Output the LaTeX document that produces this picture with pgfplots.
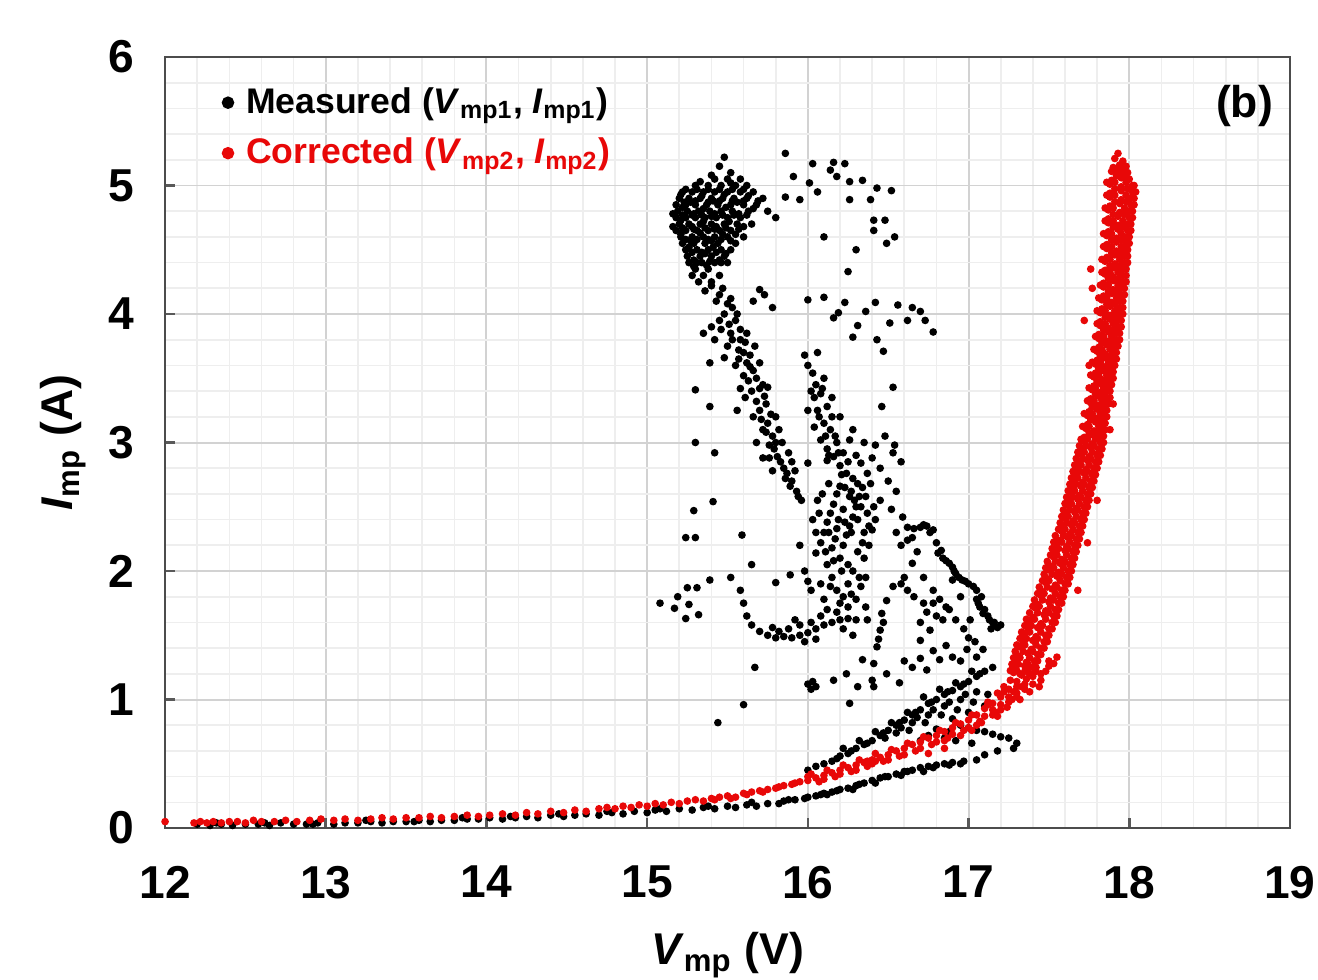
\documentclass[border=0pt]{standalone}
\usepackage{pgfplots}
\pgfplotsset{compat=1.18}
\usepackage{fontspec}
\setmainfont{Liberation Sans}
\definecolor{cred}{RGB}{232,8,8}
\begin{document}
\begin{tikzpicture}
\path[use as bounding box] (-50.1pt,-46.1pt) rectangle (349.9pt,251.3pt);
\begin{axis}[
  scale only axis, width=341.4pt, height=234pt,
  xmin=12, xmax=19, ymin=0, ymax=6,
  xtick={12,...,19}, ytick={0,...,6},
  minor x tick num=4, minor y tick num=4,
  grid=both,
  major grid style={draw=gray!35, line width=0.6pt},
  minor grid style={draw=gray!13, line width=0.5pt},
  axis line style={draw=black!70, line width=0.8pt},
  major tick length=3pt, minor tick length=0pt,
  tick style={draw=black!65, line width=0.8pt},
  xtick pos=left, ytick pos=left, tick align=inside,
  /pgf/number format/assume math mode=true,
  ticklabel style={font=\bfseries\fontsize{14}{16}\selectfont},
  yticklabel style={xshift=-6pt},
  xticklabel style={yshift=-8pt},
  xlabel={\textbf{\textit{V}}\textsubscript{\textbf{mp}} \textbf{(V)}},
  ylabel={\textbf{\textit{I}}\textsubscript{\textbf{mp}} \textbf{(A)}},
  label style={font=\bfseries\fontsize{13.5}{16}\selectfont},
  xlabel style={at={(axis description cs:0.5,0)}, anchor=north, yshift=-28pt},
  ylabel style={at={(axis description cs:0,0.5)}, anchor=center, yshift=31pt},
  legend style={draw=none, fill=none, at={(rel axis cs:0,1)}, anchor=north west,
    xshift=14pt, yshift=-5pt, font=\bfseries\fontsize{10.8}{13}\selectfont, row sep=2pt},
  legend cell align=left,
]
\addplot[only marks, mark=*, mark size=0.95pt, color=black,
  legend image code/.code={\fill[black] (0pt,0pt) circle (1.7pt); \path (3.3pt,0pt);}] coordinates {
(12.20,0.03) (12.28,0.02) (12.35,0.03) (12.42,0.02) (12.50,0.03) (12.58,0.03) (12.65,0.02) (12.72,0.04) (12.80,0.03) (12.88,0.03) (12.95,0.04) (13.05,0.03) (13.12,0.04) (13.20,0.04) (13.28,0.05) (13.35,0.04) (13.42,0.05) (13.50,0.05) (13.58,0.06) (13.65,0.05) (13.72,0.06) (13.80,0.06) (13.88,0.07) (13.95,0.07) (14.02,0.08) (14.10,0.07) (14.18,0.08) (14.25,0.09) (14.32,0.08) (14.40,0.10) (14.48,0.09) (14.55,0.10) (14.62,0.11) (14.70,0.10) (14.78,0.12) (14.85,0.11) (14.92,0.13) (15.00,0.12) (15.05,0.14) (15.12,0.13) (15.20,0.15) (15.28,0.14) (15.35,0.16) (15.42,0.15) (15.50,0.17) (15.55,0.16) (15.62,0.18) (15.68,0.17) (15.75,0.19) (15.82,0.19)
(12.32,0.04) (12.62,0.04) (12.92,0.03) (13.25,0.06) (13.55,0.05) (13.85,0.08) (14.15,0.09) (14.45,0.11) (14.75,0.13) (15.08,0.15) (15.38,0.17) (15.65,0.20)
(15.85,0.21) (15.92,0.22) (16.00,0.24) (16.05,0.25) (16.10,0.27) (16.15,0.28) (16.20,0.30) (16.25,0.31) (16.30,0.33) (16.35,0.35) (16.40,0.37) (16.45,0.39) (16.50,0.40) (16.55,0.42) (16.60,0.44) (16.65,0.45) (16.70,0.47) (16.75,0.48) (16.80,0.49) (16.85,0.50) (16.90,0.51) (16.97,0.52) (17.05,0.53) (16.12,0.26) (16.28,0.30) (16.42,0.35) (16.58,0.41) (16.72,0.44)
(15.88,0.22) (15.98,0.23) (16.08,0.26) (16.18,0.29) (16.32,0.34) (16.48,0.40) (16.62,0.44) (16.78,0.47) (16.88,0.49) (16.95,0.50)
(16.95,0.80) (17.00,0.78) (17.05,0.76) (17.10,0.75) (17.15,0.73) (17.20,0.71) (17.25,0.70) (17.30,0.66) (17.28,0.62) (17.18,0.60) (17.10,0.57) (16.88,0.75) (16.80,0.77) (16.85,0.70) (16.75,0.72) (16.70,0.68) (16.92,0.68) (17.02,0.66)
(16.00,0.45) (16.05,0.48) (16.10,0.50) (16.15,0.52) (16.20,0.56) (16.25,0.58) (16.30,0.62) (16.35,0.65) (16.40,0.68) (16.45,0.72) (16.50,0.76) (16.55,0.80) (16.60,0.84) (16.65,0.88) (16.70,0.92) (16.75,0.97) (16.80,1.00) (16.85,1.04) (16.90,1.07) (16.95,1.10) (17.00,1.14) (17.05,1.18) (17.10,1.22) (17.15,1.25) (16.22,0.62) (16.32,0.68) (16.42,0.75) (16.52,0.82) (16.62,0.90) (16.72,1.02) (16.82,1.08) (16.92,1.13) (17.02,1.22) (16.48,0.70) (16.58,0.78) (16.68,0.86) (16.78,0.92) (16.88,0.98) (16.98,1.04)
(16.18,0.54) (16.27,0.60) (16.37,0.66) (16.47,0.74) (16.57,0.82) (16.67,0.90) (16.77,0.98) (16.87,1.06) (16.97,1.12) (17.07,1.20) (16.55,0.74) (16.65,0.82) (16.75,0.88) (16.85,0.95) (16.95,1.00) (17.05,1.06) (16.63,0.76) (16.73,0.82) (16.83,0.88) (16.93,0.92) (17.03,0.98) (17.12,1.04) (16.90,0.85) (17.00,0.90) (17.10,0.95)
(16.00,1.12) (16.02,1.08) (16.05,1.10) (16.03,1.14)
(16.16,1.15) (16.24,1.20) (16.31,1.10) (16.41,1.10) (16.49,1.20) (16.57,1.13) (16.65,1.25) (16.74,1.23) (16.82,1.31) (16.90,1.33) (16.99,1.39) (17.09,1.39) (16.26,0.97) (16.34,1.31) (15.67,1.25) (15.60,0.96) (15.44,0.82) (16.60,1.30) (16.70,1.32) (16.78,1.38) (16.86,1.42) (16.95,1.30) (17.05,1.33)
(15.58,1.85) (15.60,1.75) (15.62,1.65) (15.65,1.58) (15.70,1.53) (15.75,1.50) (15.80,1.48) (15.85,1.49) (15.90,1.48) (15.95,1.50) (16.00,1.52) (16.05,1.55) (16.10,1.58) (16.15,1.60) (16.20,1.62) (16.25,1.63) (16.30,1.62) (16.37,1.62) (15.82,1.53) (15.88,1.55) (15.95,1.58) (16.02,1.60) (16.08,1.65) (16.12,1.70) (16.18,1.68) (15.78,1.56) (15.98,1.45) (16.05,1.47) (16.22,1.55) (16.28,1.50) (15.92,1.62)
(15.08,1.75) (15.19,1.80) (15.25,1.87) (15.31,1.87) (15.17,1.71) (15.26,1.74) (15.32,1.66) (15.24,1.63) (15.39,1.93) (15.52,1.95) (15.24,2.26) (15.30,2.26) (15.29,2.47) (15.41,2.54) (15.59,2.28) (15.65,2.05) (15.80,1.91) (15.89,1.97) (15.30,3.00) (15.42,2.92) (15.39,3.28) (15.30,3.41) (15.39,3.62) (15.48,3.66) (15.56,3.25) (15.61,3.35)
(16.53,1.88) (16.49,1.77) (16.46,1.67) (16.45,1.54) (16.43,1.41) (16.40,1.15) (16.47,1.60) (16.44,1.47) (16.41,1.28)
(16.45,2.55) (16.52,2.48) (16.59,2.42) (16.62,2.34) (16.65,2.26) (16.70,2.34) (16.74,2.35) (16.78,2.32) (16.81,2.14) (16.84,2.10) (16.88,2.06) (16.91,2.00) (16.94,1.95) (16.98,1.92) (17.03,1.88) (17.07,1.72) (17.09,1.67) (17.13,1.62) (17.18,1.56) (17.01,1.62) (16.90,1.93) (16.62,2.24) (16.65,2.06) (16.78,1.85) (16.86,1.72) (16.76,1.54) (16.70,1.46) (16.72,1.95) (16.68,2.15) (16.58,2.20) (16.80,1.65) (16.95,1.80) (17.05,1.78) (17.15,1.60) (16.55,2.30) (16.60,1.95) (16.72,1.75) (16.84,1.62)
(16.66,2.33) (16.72,2.36) (16.76,2.30) (16.80,2.22) (16.83,2.16) (16.86,2.08) (16.90,2.03) (16.92,1.98) (16.96,1.93) (17.00,1.90) (17.05,1.85) (17.08,1.80) (17.06,1.75) (17.10,1.70) (17.12,1.65) (17.16,1.60) (17.20,1.58) (17.14,1.55)
(16.70,1.60) (16.74,1.68) (16.78,1.75) (16.82,1.78) (16.88,1.70) (16.92,1.62) (16.97,1.55) (17.00,1.48) (17.04,1.45) (16.58,1.90) (16.62,1.85) (16.66,1.80)
(16.05,2.14) (16.08,2.22) (16.10,2.30) (16.12,2.38) (16.14,2.45) (16.16,2.52) (16.18,2.60) (16.20,2.66) (16.22,2.20) (16.24,2.28) (16.26,2.35) (16.28,2.42) (16.30,2.50) (16.32,2.58) (16.34,2.65) (16.12,2.05) (16.15,1.95) (16.18,1.85) (16.22,1.80) (16.25,1.90) (16.28,2.00) (16.30,1.78) (16.33,1.88) (16.35,2.10) (16.38,2.20) (16.40,2.32) (16.20,2.10) (16.15,2.18) (16.08,1.90) (16.02,1.85) (16.10,1.78) (16.36,1.72) (16.25,1.72) (15.98,2.00) (16.03,2.40) (16.06,2.55) (16.28,2.72) (16.22,2.48) (16.18,2.33) (16.26,2.58) (16.37,2.45) (16.42,2.40) (16.35,2.30) (15.95,2.20) (16.00,1.92)
(16.04,3.35) (16.09,3.42) (16.07,3.20) (16.11,3.05) (16.15,3.20) (16.17,3.05) (16.13,2.90) (16.19,2.92) (16.21,2.75) (16.25,2.85) (16.23,2.65) (16.27,2.62) (16.31,2.68) (16.29,2.55) (16.33,2.50) (16.31,2.40) (16.27,2.30) (16.23,2.38) (16.19,2.40) (16.17,2.25) (16.13,2.30) (16.11,2.15) (16.16,2.08) (16.21,2.00) (16.25,2.05) (16.31,2.15) (16.34,2.22) (16.38,2.35) (16.41,2.50) (16.36,2.58) (16.39,2.68) (16.05,2.30) (16.07,2.45) (16.09,2.60) (16.13,2.68) (16.36,1.95) (16.32,1.95) (16.27,1.82) (16.20,1.75) (16.14,1.88)
(15.29,4.37) (15.35,4.30) (15.40,4.22) (15.45,4.15) (15.50,4.08) (15.53,4.05) (15.55,3.95) (15.58,3.80) (15.60,3.70) (15.62,3.62) (15.64,3.59) (15.68,3.50) (15.72,3.45) (15.75,3.43) (15.74,3.30) (15.75,3.15) (15.78,3.05) (15.81,2.89) (15.85,2.80) (15.87,2.76) (15.90,2.70) (15.93,2.62) (15.96,2.55) (15.52,3.85) (15.57,3.72) (15.62,3.85) (15.67,3.75) (15.70,3.62) (15.65,3.40) (15.70,3.25) (15.72,3.10) (15.76,2.98) (15.80,3.20) (15.84,3.00) (15.88,2.92) (15.68,3.00) (15.72,2.88) (15.78,2.78) (15.45,3.95) (15.48,4.00) (15.40,3.90) (15.35,3.85) (15.42,3.80) (15.50,3.75) (15.55,3.60) (15.60,3.52) (15.58,3.42) (15.66,3.20) (15.82,3.10) (15.90,2.85) (15.92,2.78)
(15.36,4.18) (15.43,4.10) (15.47,4.20) (15.52,4.12) (15.56,4.00) (15.51,3.92) (15.46,3.88) (15.53,3.80) (15.58,3.88) (15.61,3.78) (15.64,3.68) (15.57,3.65) (15.66,3.56) (15.63,3.48) (15.70,3.42) (15.73,3.36) (15.68,3.32) (15.71,3.18) (15.77,3.22) (15.74,3.08) (15.79,2.95) (15.83,2.85) (15.86,2.72) (15.80,3.00) (15.76,2.88) (15.89,2.66) (15.94,2.58)
(16.03,3.54) (16.05,3.45) (16.08,3.38) (16.12,3.28) (16.10,3.15) (16.08,3.02) (16.12,2.95) (16.16,2.89) (16.20,2.82) (16.24,2.76) (16.00,3.60) (15.98,3.68) (16.02,3.40) (16.06,3.25) (16.14,3.10) (16.18,3.00) (16.22,2.92) (16.04,3.12) (16.00,3.25) (16.06,3.70) (16.10,3.50) (16.15,3.35) (16.20,3.20) (16.26,3.02) (16.30,2.90) (16.37,2.76) (16.33,2.84) (16.28,3.10) (16.35,3.00) (16.40,2.88) (16.45,2.80) (16.50,2.70) (16.55,2.62) (16.42,2.98) (16.48,3.05) (16.53,2.92) (16.58,2.85) (16.00,2.84) (16.12,2.86) (16.53,3.43) (16.46,3.28) (16.54,2.98)
(15.86,5.25) (16.03,5.17) (16.16,5.18) (16.23,5.17) (16.26,5.03) (16.34,5.04) (16.43,4.98) (16.52,4.96) (16.41,4.73) (16.48,4.73) (16.41,4.65) (16.54,4.60) (16.49,4.55) (16.30,4.50) (16.10,4.60) (16.25,4.33) (16.39,4.89) (16.26,4.89) (15.95,4.89) (15.86,4.91) (15.80,4.75) (16.06,4.95) (16.01,5.02) (15.91,5.07) (16.14,5.12) (16.18,5.07)
(16.00,4.11) (16.10,4.13) (16.23,4.09) (16.42,4.09) (16.56,4.07) (16.65,4.05) (16.70,4.02) (16.73,3.95) (16.78,3.86) (16.62,3.95) (16.51,3.93) (16.36,4.02) (16.43,3.80) (16.47,3.71) (16.31,3.91) (16.28,3.82) (16.16,3.97) (16.19,4.01) (15.70,4.19) (15.78,4.05) (15.73,4.15) (15.66,4.10)
(15.42,5.05) (15.50,5.05) (15.30,5.00) (15.38,5.00) (15.46,5.00) (15.55,5.00)
(15.22,4.95) (15.28,4.95) (15.35,4.95) (15.42,4.95) (15.50,4.95) (15.58,4.95) (15.66,4.95)
(15.20,4.90) (15.26,4.90) (15.33,4.90) (15.40,4.90) (15.47,4.90) (15.54,4.90) (15.62,4.90) (15.72,4.90)
(15.18,4.85) (15.24,4.85) (15.30,4.85) (15.37,4.85) (15.44,4.85) (15.52,4.85) (15.60,4.85) (15.68,4.85)
(15.19,4.80) (15.25,4.80) (15.32,4.80) (15.39,4.80) (15.46,4.80) (15.53,4.80) (15.63,4.80) (15.75,4.80)
(15.18,4.75) (15.24,4.75) (15.30,4.75) (15.36,4.75) (15.43,4.75) (15.50,4.75) (15.58,4.75)
(15.20,4.70) (15.26,4.70) (15.33,4.70) (15.40,4.70) (15.48,4.70) (15.56,4.70) (15.65,4.70)
(15.18,4.65) (15.24,4.65) (15.31,4.65) (15.38,4.65) (15.45,4.65) (15.52,4.65)
(15.21,4.60) (15.28,4.60) (15.35,4.60) (15.42,4.60) (15.50,4.60) (15.60,4.60)
(15.22,4.55) (15.29,4.55) (15.36,4.55) (15.44,4.55) (15.55,4.55)
(15.24,4.50) (15.31,4.50) (15.38,4.50) (15.46,4.50) (15.52,4.50)
(15.25,4.45) (15.33,4.45) (15.40,4.45) (15.48,4.45)
(15.26,4.40) (15.34,4.40) (15.42,4.40) (15.50,4.40)
(15.30,4.35) (15.38,4.35) (15.28,4.30) (15.45,4.30) (15.32,4.25) (15.40,4.25)
(15.45,5.15) (15.48,5.22) (15.52,5.10) (15.58,5.05) (15.62,5.00)
(15.21,4.93) (15.27,4.87) (15.34,4.92) (15.41,4.88) (15.48,4.93) (15.56,4.87) (15.63,4.92)
(15.22,4.83) (15.29,4.78) (15.35,4.82) (15.42,4.78) (15.49,4.83) (15.57,4.78) (15.66,4.82)
(15.21,4.73) (15.28,4.68) (15.35,4.72) (15.43,4.68) (15.51,4.72) (15.60,4.68)
(15.21,4.62) (15.27,4.57) (15.33,4.63) (15.40,4.57) (15.47,4.62) (15.55,4.62)
(15.26,4.52) (15.34,4.48) (15.41,4.52) (15.49,4.47) (15.29,4.42) (15.37,4.38) (15.45,4.42)
(15.33,5.03) (15.40,5.08) (15.52,5.02) (15.60,4.97) (15.69,4.88) (15.16,4.78) (15.16,4.68)
(15.24,4.97) (15.31,4.97) (15.38,4.97) (15.45,4.97) (15.53,4.97)
(15.23,4.87) (15.30,4.88) (15.38,4.87) (15.45,4.88) (15.53,4.88) (15.60,4.88)
(15.22,4.77) (15.28,4.77) (15.34,4.77) (15.40,4.76) (15.47,4.77) (15.54,4.77) (15.62,4.77)
(15.22,4.67) (15.29,4.66) (15.36,4.67) (15.42,4.66) (15.49,4.67) (15.57,4.66)
(15.24,4.58) (15.31,4.58) (15.38,4.58) (15.46,4.58) (15.52,4.57)
(15.28,4.48) (15.36,4.47) (15.43,4.48) (15.31,4.40) (15.39,4.41) (15.46,4.40)
};
\addlegendentry{Measured (\textit{V}\textsubscript{mp1}, \textit{I}\textsubscript{mp1})}
\addplot[only marks, mark=*, mark size=0.95pt, color=cred,
  legend image code/.code={\fill[cred] (0pt,0pt) circle (1.7pt); \path (3.3pt,0pt);}] coordinates {
(12.00,0.05) (12.18,0.04) (12.22,0.05) (12.26,0.04) (12.30,0.05) (12.35,0.04) (12.40,0.05) (12.45,0.05) (12.50,0.04) (12.55,0.06) (12.60,0.05) (12.68,0.05) (12.75,0.06) (12.82,0.05) (12.90,0.06) (12.97,0.07) (13.05,0.06) (13.12,0.07) (13.20,0.06) (13.28,0.07) (13.35,0.08) (13.42,0.07) (13.50,0.08) (13.58,0.08) (13.65,0.09) (13.72,0.08) (13.80,0.09) (13.88,0.10) (13.95,0.09) (14.02,0.10) (14.10,0.11) (14.18,0.10) (14.25,0.12) (14.32,0.11) (14.40,0.13) (14.48,0.12) (14.55,0.14) (14.62,0.13) (14.70,0.15) (14.75,0.16) (14.80,0.15) (14.85,0.17) (14.90,0.16) (14.95,0.18) (15.00,0.17) (15.05,0.19) (15.10,0.18) (15.15,0.20) (15.20,0.19) (15.25,0.21) (15.30,0.22) (15.35,0.21) (15.40,0.23) (15.45,0.24) (15.50,0.25) (15.55,0.24) (15.60,0.27) (15.65,0.28) (15.70,0.29) (15.75,0.30) (15.80,0.31) (15.85,0.33) (15.90,0.34) (15.95,0.36) (16.00,0.37) (16.00,0.40) (16.05,0.39) (16.10,0.41) (16.10,0.38) (16.15,0.43) (16.20,0.45) (16.20,0.42) (16.25,0.47) (16.30,0.49) (16.30,0.45) (16.35,0.51) (16.40,0.53) (16.40,0.50) (16.45,0.55) (16.50,0.57) (16.50,0.53) (16.55,0.60) (16.60,0.62) (16.60,0.57) (16.65,0.65) (16.70,0.67) (16.70,0.62) (16.75,0.70) (16.80,0.72) (16.80,0.67) (16.85,0.75) (16.90,0.78) (16.90,0.73) (16.95,0.81) (17.00,0.84) (17.00,0.78) (17.05,0.88) (17.10,0.93) (17.10,0.87) (17.15,0.97) (17.20,1.02) (17.20,0.96) (17.25,1.08) (17.30,1.14) (17.30,1.05) (17.35,1.22)
(16.02,0.42) (16.12,0.45) (16.22,0.49) (16.32,0.53) (16.42,0.58) (16.52,0.61) (16.62,0.66) (16.72,0.71) (16.82,0.76) (16.92,0.82) (17.02,0.88) (17.12,0.96) (17.22,1.06) (15.62,0.26) (15.72,0.28) (15.82,0.32) (15.92,0.35) (15.52,0.23) (15.42,0.22) (16.07,0.36) (16.17,0.40) (16.27,0.44) (16.37,0.48) (16.47,0.52) (16.57,0.56) (16.67,0.60) (16.77,0.65) (16.87,0.70) (16.97,0.76) (17.07,0.83) (17.17,0.90) (17.27,1.00)
(16.85,0.68) (16.95,0.72) (17.05,0.80) (17.15,0.88) (17.20,0.92) (17.25,0.98) (17.30,1.02) (17.35,1.08) (17.40,1.12) (17.45,1.20) (17.50,1.26) (17.55,1.33) (17.50,1.30) (17.45,1.15) (17.40,1.18) (17.35,1.12) (17.28,1.06)
(17.02,0.76) (17.08,0.82) (17.18,0.87) (17.24,0.94) (17.32,1.00) (17.38,1.06) (17.44,1.10) (17.48,1.22) (17.53,1.28) (17.42,1.22) (17.36,1.16) (17.30,1.10)
(16.37,0.52) (16.42,0.52) (16.75,0.58) (16.85,0.62)
(17.12,0.98) (17.18,1.05) (17.22,1.10) (17.26,1.15) (17.32,1.20) (17.15,0.92) (17.38,1.25) (17.42,1.30) (17.25,1.02) (17.33,1.10)
(17.28,1.21) (17.33,1.19) (17.38,1.20) (17.29,1.24) (17.35,1.26) (17.40,1.25) (17.30,1.31) (17.36,1.29) (17.41,1.30) (17.31,1.34) (17.37,1.36) (17.43,1.35)
(17.32,1.41) (17.39,1.39) (17.45,1.40) (17.34,1.44) (17.40,1.46) (17.47,1.45) (17.35,1.51) (17.42,1.49) (17.48,1.50) (17.37,1.54) (17.43,1.56) (17.50,1.55)
(17.38,1.61) (17.45,1.59) (17.52,1.60) (17.40,1.64) (17.47,1.66) (17.53,1.65) (17.42,1.71) (17.48,1.69) (17.54,1.70) (17.43,1.74) (17.50,1.76) (17.56,1.75)
(17.45,1.81) (17.51,1.79) (17.57,1.80) (17.46,1.84) (17.52,1.86) (17.58,1.85) (17.48,1.91) (17.54,1.89) (17.60,1.90) (17.49,1.94) (17.55,1.96) (17.61,1.95)
(17.50,2.01) (17.56,1.99) (17.62,2.00) (17.51,2.04) (17.57,2.06) (17.63,2.05) (17.53,2.11) (17.58,2.09) (17.64,2.10) (17.54,2.14) (17.60,2.16) (17.65,2.15)
(17.55,2.21) (17.61,2.19) (17.66,2.20) (17.56,2.24) (17.62,2.26) (17.67,2.25) (17.58,2.31) (17.63,2.29) (17.68,2.30) (17.59,2.34) (17.64,2.36) (17.69,2.35)
(17.60,2.41) (17.65,2.39) (17.70,2.40) (17.61,2.44) (17.66,2.46) (17.71,2.45) (17.62,2.51) (17.67,2.49) (17.72,2.50) (17.63,2.54) (17.68,2.56) (17.73,2.55)
(17.64,2.61) (17.69,2.59) (17.74,2.60) (17.65,2.64) (17.70,2.66) (17.75,2.65) (17.66,2.71) (17.71,2.69) (17.76,2.70) (17.67,2.74) (17.72,2.76) (17.77,2.75)
(17.68,2.81) (17.73,2.79) (17.78,2.80) (17.69,2.84) (17.74,2.86) (17.79,2.85) (17.70,2.91) (17.75,2.89) (17.80,2.90) (17.71,2.94) (17.76,2.96) (17.81,2.95)
(17.72,3.01) (17.77,2.99) (17.82,3.00) (17.72,3.04) (17.77,3.06) (17.82,3.05) (17.73,3.11) (17.78,3.09) (17.83,3.10) (17.74,3.14) (17.79,3.16) (17.84,3.15)
(17.74,3.21) (17.79,3.19) (17.84,3.20) (17.75,3.24) (17.80,3.26) (17.85,3.25) (17.76,3.31) (17.80,3.29) (17.85,3.30) (17.76,3.34) (17.81,3.36) (17.86,3.35)
(17.77,3.41) (17.82,3.39) (17.86,3.40) (17.78,3.44) (17.82,3.46) (17.87,3.45) (17.78,3.51) (17.83,3.49) (17.88,3.50) (17.79,3.54) (17.84,3.56) (17.88,3.55)
(17.79,3.61) (17.84,3.59) (17.89,3.60) (17.80,3.64) (17.85,3.66) (17.90,3.65) (17.80,3.71) (17.85,3.69) (17.90,3.70) (17.81,3.74) (17.86,3.76) (17.91,3.75)
(17.81,3.81) (17.86,3.79) (17.92,3.80) (17.81,3.84) (17.87,3.86) (17.92,3.85) (17.82,3.91) (17.87,3.89) (17.93,3.90) (17.82,3.94) (17.88,3.96) (17.93,3.95)
(17.82,4.01) (17.88,3.99) (17.94,4.00) (17.83,4.04) (17.88,4.06) (17.94,4.05) (17.83,4.11) (17.89,4.09) (17.94,4.10) (17.84,4.14) (17.89,4.16) (17.95,4.15)
(17.84,4.21) (17.90,4.19) (17.95,4.20) (17.84,4.24) (17.90,4.26) (17.96,4.25) (17.85,4.31) (17.90,4.29) (17.96,4.30) (17.85,4.34) (17.91,4.36) (17.96,4.35)
(17.85,4.41) (17.91,4.39) (17.97,4.40) (17.86,4.44) (17.91,4.46) (17.97,4.45) (17.86,4.51) (17.92,4.49) (17.97,4.50) (17.86,4.54) (17.92,4.56) (17.98,4.55)
(17.86,4.61) (17.92,4.59) (17.98,4.60) (17.87,4.64) (17.93,4.66) (17.99,4.65) (17.87,4.71) (17.93,4.69) (17.99,4.70) (17.87,4.74) (17.93,4.76) (18.00,4.75)
(17.87,4.81) (17.94,4.79) (18.00,4.80) (17.88,4.84) (17.94,4.86) (18.01,4.85) (17.88,4.91) (17.95,4.89) (18.01,4.90) (17.88,4.94) (17.95,4.96) (18.02,4.95)
(17.88,5.01) (17.95,4.99) (18.02,5.00) (17.89,5.04) (17.95,5.06) (18.00,5.05) (17.89,5.11) (17.94,5.09) (17.99,5.10) (17.90,5.14) (17.94,5.16) (17.98,5.15)
(17.91,5.21) (17.96,5.19) (17.93,5.25)
(17.68,1.85) (17.74,2.22) (17.80,2.55) (17.88,3.10) (17.90,3.30) (17.75,3.60) (17.77,4.20) (17.76,4.35) (17.72,3.95)
(17.30,1.225) (17.36,1.225) (17.31,1.275) (17.37,1.275) (17.32,1.325) (17.38,1.325) (17.34,1.375) (17.40,1.375) (17.35,1.425) (17.42,1.425) (17.36,1.475) (17.43,1.475)
(17.38,1.525) (17.45,1.525) (17.39,1.575) (17.46,1.575) (17.41,1.625) (17.48,1.625) (17.43,1.675) (17.50,1.675) (17.44,1.725) (17.51,1.725) (17.46,1.775) (17.53,1.775)
(17.47,1.825) (17.54,1.825) (17.49,1.875) (17.55,1.875) (17.50,1.925) (17.57,1.925) (17.52,1.975) (17.58,1.975) (17.53,2.025) (17.59,2.025) (17.54,2.075) (17.60,2.075)
(17.55,2.125) (17.61,2.125) (17.56,2.175) (17.62,2.175) (17.58,2.225) (17.63,2.225) (17.59,2.275) (17.64,2.275) (17.60,2.325) (17.65,2.325) (17.61,2.375) (17.66,2.375)
(17.62,2.425) (17.67,2.425) (17.63,2.475) (17.68,2.475) (17.64,2.525) (17.69,2.525) (17.65,2.575) (17.70,2.575) (17.66,2.625) (17.71,2.625) (17.67,2.675) (17.72,2.675)
(17.68,2.725) (17.73,2.725) (17.69,2.775) (17.74,2.775) (17.70,2.825) (17.75,2.825) (17.71,2.875) (17.76,2.875) (17.72,2.925) (17.77,2.925) (17.73,2.975) (17.78,2.975)
(17.74,3.025) (17.79,3.025) (17.75,3.075) (17.80,3.075) (17.75,3.125) (17.81,3.125) (17.76,3.175) (17.81,3.175) (17.77,3.225) (17.82,3.225) (17.77,3.275) (17.83,3.275)
(17.78,3.325) (17.83,3.325) (17.79,3.375) (17.84,3.375) (17.79,3.425) (17.84,3.425) (17.80,3.475) (17.85,3.475) (17.81,3.525) (17.86,3.525) (17.81,3.575) (17.86,3.575)
(17.82,3.625) (17.87,3.625) (17.82,3.675) (17.88,3.675) (17.83,3.725) (17.88,3.725) (17.83,3.775) (17.89,3.775) (17.84,3.825) (17.89,3.825) (17.84,3.875) (17.90,3.875)
(17.85,3.925) (17.90,3.925) (17.85,3.975) (17.91,3.975) (17.85,4.025) (17.91,4.025) (17.86,4.075) (17.91,4.075) (17.86,4.125) (17.92,4.125) (17.87,4.175) (17.92,4.175)
(17.87,4.225) (17.93,4.225) (17.87,4.275) (17.93,4.275) (17.88,4.325) (17.93,4.325) (17.88,4.375) (17.94,4.375) (17.88,4.425) (17.94,4.425) (17.89,4.475) (17.94,4.475)
(17.89,4.525) (17.95,4.525) (17.89,4.575) (17.95,4.575) (17.89,4.625) (17.95,4.625) (17.90,4.675) (17.96,4.675) (17.90,4.725) (17.96,4.725) (17.90,4.775) (17.97,4.775)
(17.90,4.825) (17.97,4.825) (17.91,4.875) (17.98,4.875) (17.91,4.925) (17.98,4.925) (17.91,4.975) (17.99,4.975) (17.91,5.025) (17.98,5.025) (17.92,5.075) (17.97,5.075)
(17.92,5.125) (17.96,5.125)
(17.26,1.225) (17.27,1.275) (17.28,1.325) (17.29,1.375) (17.30,1.425) (17.32,1.475) (17.33,1.525) (17.35,1.575) (17.36,1.625) (17.38,1.675) (17.40,1.725) (17.41,1.775)
(17.43,1.825) (17.44,1.875) (17.46,1.925) (17.47,1.975) (17.48,2.025) (17.49,2.075) (17.51,2.125) (17.52,2.175) (17.53,2.225) (17.54,2.275) (17.56,2.325) (17.57,2.375)
(17.58,2.425) (17.59,2.475) (17.60,2.525) (17.61,2.575) (17.62,2.625) (17.63,2.675) (17.64,2.725) (17.65,2.775) (17.66,2.825) (17.67,2.875) (17.68,2.925) (17.69,2.975)
(17.70,3.025) (17.71,3.125) (17.72,3.225) (17.74,3.325) (17.75,3.425) (17.76,3.525) (17.77,3.625) (17.78,3.725) (17.79,3.825) (17.80,3.925) (17.80,4.025) (17.81,4.125)
(17.82,4.225) (17.83,4.325) (17.83,4.425) (17.84,4.525) (17.84,4.625) (17.85,4.725) (17.85,4.825) (17.86,4.925) (17.86,5.025)
(17.40,1.20) (17.42,1.25) (17.43,1.30) (17.45,1.35) (17.47,1.40) (17.49,1.45) (17.50,1.50) (17.52,1.55) (17.54,1.60) (17.55,1.65) (17.56,1.70) (17.58,1.75)
(17.59,1.80) (17.60,1.85) (17.62,1.90) (17.63,1.95) (17.64,2.00) (17.65,2.05) (17.66,2.10) (17.67,2.15) (17.68,2.20) (17.69,2.25) (17.70,2.30) (17.71,2.35)
(17.72,2.40) (17.73,2.45) (17.74,2.50) (17.75,2.55) (17.76,2.60) (17.77,2.65) (17.78,2.70) (17.79,2.75) (17.80,2.80) (17.81,2.85) (17.82,2.90) (17.83,2.95)
(17.84,3.00) (17.84,3.05) (17.85,3.10) (17.85,3.15) (17.86,3.20) (17.86,3.25) (17.87,3.30) (17.88,3.35) (17.88,3.40) (17.89,3.45) (17.90,3.50) (17.90,3.55)
(17.91,3.60) (17.92,3.65) (17.92,3.70) (17.93,3.75) (17.94,3.80) (17.94,3.85) (17.95,3.90) (17.95,3.95) (17.96,4.00) (17.96,4.05) (17.96,4.10) (17.97,4.15)
(17.97,4.20) (17.98,4.25) (17.98,4.30) (17.98,4.35) (17.99,4.40) (17.99,4.45) (17.99,4.50) (18.00,4.55) (18.00,4.60) (18.01,4.65) (18.01,4.70) (18.02,4.75)
(18.02,4.80) (18.03,4.85) (18.03,4.90) (18.04,4.95) (18.03,5.00)
};
\addlegendentry{\textcolor{cred}{Corrected (\textit{V}\textsubscript{mp2}, \textit{I}\textsubscript{mp2})}}
\node[anchor=north east, inner sep=0pt, font=\bfseries\fontsize{13.5}{16}\selectfont] at ([xshift=-5pt,yshift=-8.5pt]rel axis cs:1,1) {(b)};
\end{axis}
\end{tikzpicture}
\end{document}
